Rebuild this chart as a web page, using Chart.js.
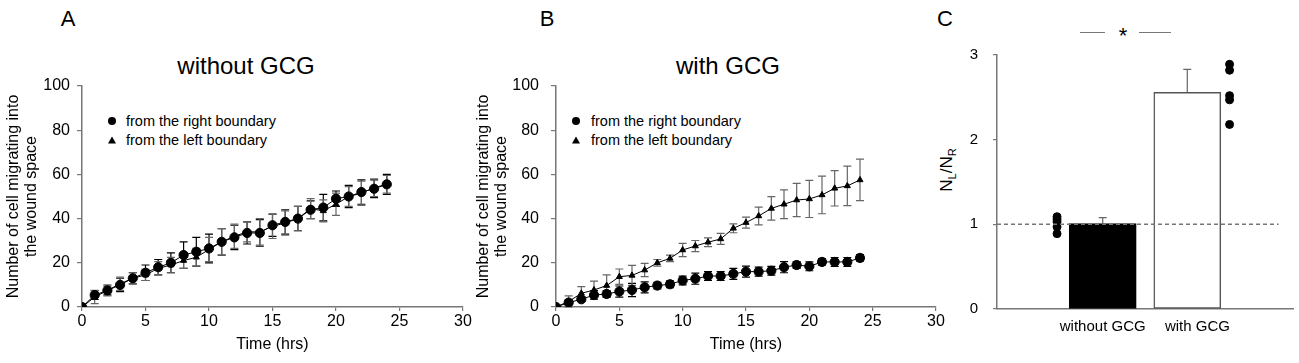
<!DOCTYPE html>
<html>
<head>
<meta charset="utf-8">
<script src="https://cdn.jsdelivr.net/npm/chart.js@4/dist/chart.umd.min.js"></script>
<style>
  body { margin: 0; width: 1299px; height: 363px; background: #fff; position: relative; overflow: hidden;
         font-family: "Liberation Sans", Arial, Helvetica, sans-serif; color: #000; }
  .box { position: absolute; top: 0; height: 363px; }
  .txt { position: absolute; white-space: nowrap; transform: translate(-50%, -50%); line-height: 1; }
  .leg { position: absolute; white-space: nowrap; font-size: 14.5px; line-height: 1; transform: translateY(-50%); }
  .dot { position: absolute; width: 8px; height: 8px; border-radius: 50%; background: #000; transform: translate(-50%, -50%); }
  .tri { position: absolute; width: 0; height: 0; border-left: 4px solid transparent; border-right: 4px solid transparent;
         border-bottom: 7px solid #000; transform: translate(-50%, -50%); }
  .sig { position: absolute; height: 0; border-top: 1.5px solid #777; }
</style>
</head>
<body>

<div class="txt" style="left:68px;top:19px;font-size:22px">A</div>
<div class="txt" style="left:547px;top:19px;font-size:22px">B</div>
<div class="txt" style="left:945px;top:19px;font-size:22px">C</div>

<div class="txt" style="left:246px;top:66px;font-size:24px">without GCG</div>
<div class="txt" style="left:728px;top:66px;font-size:24px">with GCG</div>

<div class="dot" style="left:112px;top:121px"></div>
<div class="leg" style="left:126px;top:121px">from the right boundary</div>
<div class="tri" style="left:112px;top:140px"></div>
<div class="leg" style="left:126px;top:140px">from the left boundary</div>

<div class="dot" style="left:576px;top:121px"></div>
<div class="leg" style="left:591px;top:121px">from the right boundary</div>
<div class="tri" style="left:576px;top:140px"></div>
<div class="leg" style="left:591px;top:140px">from the left boundary</div>

<div class="sig" style="left:1080px;top:32px;width:25px"></div>
<div class="sig" style="left:1139px;top:32px;width:32px"></div>
<div class="txt" style="left:1123px;top:36px;font-size:22px">*</div>
<div class="txt" style="left:948px;top:170px;font-size:17px;transform:translate(-50%,-50%) rotate(-90deg)">N<sub style="font-size:11px">L</sub>/N<sub style="font-size:11px">R</sub></div>

<div class="box" style="left:0;width:480px"><canvas id="chartA"></canvas></div>
<div class="box" style="left:470px;width:480px"><canvas id="chartB"></canvas></div>
<div class="box" style="left:940px;width:359px"><canvas id="chartC"></canvas></div>

<script>
// time points (hrs)
const hours = [0, 1, 2, 3, 4, 5, 6, 7, 8, 9, 10, 11, 12, 13, 14, 15, 16, 17, 18, 19, 20, 21, 22, 23, 24];

// A - without GCG
const rightNoGcg   = [0, 5.4, 7.5, 10, 13, 15.5, 18, 20, 23.5, 25, 26.5, 29.5, 31.5, 33.5, 33.5, 37, 38.5, 40, 44, 45, 49, 50, 52, 53.5, 55.5];
const rightNoGcgSd = [0, 2, 2, 3, 2.5, 3.5, 3.5, 4.5, 6, 6.5, 6.5, 6, 5.5, 5, 6, 5, 5.5, 5.5, 4, 6, 3.5, 5, 5.5, 4, 4.5];
const leftNoGcg    = [0, 4.5, 7.5, 10.5, 13, 14.5, 17.5, 19, 21, 22.5, 26, 29.5, 32, 34, 34, 36.5, 38, 40, 44.5, 43.5, 46.5, 50, 51.5, 54, 55.5];
const leftNoGcgSd  = [0, 3, 2.5, 3, 2.5, 2.5, 3, 3.5, 3.5, 4, 5.5, 6, 5.5, 4.5, 6, 5.5, 5.5, 5.5, 4.5, 5, 5, 4.5, 5.5, 4, 4];

// B - with GCG
const rightGcg   = [0, 2, 3.5, 5.4, 5.9, 7, 7.7, 8.9, 9.7, 10.3, 12, 12.8, 14, 14, 15, 16, 16, 16.4, 18, 19, 18.4, 20.4, 20.4, 20.4, 22.2];
const rightGcgSd = [0, 1, 1, 2, 1.5, 2.5, 3, 2.5, 1.5, 1.5, 2, 2.5, 2, 2, 2.5, 2.5, 2, 2, 2.5, 1.5, 2, 1.5, 2, 2, 1.5];
const leftGcg    = [0, 2.5, 6.2, 7.7, 9.7, 13.7, 14.3, 16.7, 20, 22, 25.8, 27.6, 29.3, 30.8, 35.6, 38.2, 41.2, 44.6, 46.5, 48.4, 48.9, 50.7, 53.7, 54.8, 57.5];
const leftGcgSd  = [0, 2.5, 3, 4, 4.8, 3.5, 4.5, 3, 1.5, 1.5, 3, 2.5, 2, 2.5, 2, 2.5, 4, 5.3, 6.5, 7.5, 8.4, 8.5, 8, 8.9, 9.4];

// C - N_L / N_R
const groups = ['without GCG', 'with GCG'];
const ratioMean = [1.01, 2.56];
const ratioSd = [0.07, 0.27];
const ratioDotsNoGcg = [1.09, 1.06, 1.03, 0.97, 0.89];
const ratioDotsGcg = [2.89, 2.82, 2.52, 2.47, 2.18];

const timeTicks = [0, 5, 10, 15, 20, 25, 30];
const countTicks = [0, 20, 40, 60, 80, 100];
const ratioTicks = [0, 1, 2, 3];

const FONT = '"Liberation Sans", Arial, Helvetica, sans-serif';

// draws vertical error bars for any dataset that has an "errors" array
const errorBars = {
    id: 'errorBars',
    beforeDatasetsDraw(chart) {
        const ctx = chart.ctx;
        chart.data.datasets.forEach(function (ds, i) {
            if (!ds.errors) return;
            const meta = chart.getDatasetMeta(i);
            const yScale = chart.scales[meta.yAxisID];
            ctx.save();
            ctx.strokeStyle = ds.errorColor || '#000';
            ctx.lineWidth = 1.2;
            meta.data.forEach(function (el, j) {
                const err = ds.errors[j];
                if (!err) return;
                const v = meta._parsed[j].y;
                const x = el.x;
                const top = yScale.getPixelForValue(v + err);
                const bot = yScale.getPixelForValue(v - err);
                const cap = ds.capWidth || 4;
                ctx.beginPath();
                ctx.moveTo(x, top); ctx.lineTo(x, bot);
                ctx.moveTo(x - cap, top); ctx.lineTo(x + cap, top);
                if (!ds.upperOnly) { ctx.moveTo(x - cap, bot); ctx.lineTo(x + cap, bot); }
                ctx.stroke();
            });
            ctx.restore();
        });
    }
};

// dashed reference line at N_L/N_R = 1
const refLine = {
    id: 'refLine',
    afterDatasetsDraw(chart) {
        const ctx = chart.ctx;
        const y = chart.scales.y.getPixelForValue(1);
        const x1 = chart.scales.x.getPixelForValue(3.08);
        ctx.save();
        ctx.strokeStyle = '#777';
        ctx.lineWidth = 1.5;
        ctx.setLineDash([4, 3]);
        ctx.beginPath();
        ctx.moveTo(chart.chartArea.left, y);
        ctx.lineTo(x1, y);
        ctx.stroke();
        ctx.restore();
    }
};

function toPoints(ys) {
    return hours.map(function (h, i) { return { x: h, y: ys[i] }; });
}

function drawTimeChart(id, right, rightSd, left, leftSd, axisW, tickPad, padRight) {
    return new Chart(document.getElementById(id), {
        type: 'line',
        data: {
            datasets: [{
                label: 'from the right boundary',
                data: toPoints(right),
                errors: rightSd,
                errorColor: '#000',
                borderColor: '#000',
                backgroundColor: '#000',
                borderWidth: 1,
                pointStyle: 'circle',
                pointRadius: 4.6,
                tension: 0
            }, {
                label: 'from the left boundary',
                data: toPoints(left),
                errors: leftSd,
                errorColor: '#666',
                borderColor: '#000',
                backgroundColor: '#000',
                borderWidth: 1,
                pointStyle: 'triangle',
                pointRadius: 3.5,
                tension: 0
            }]
        },
        options: {
            responsive: true,
            maintainAspectRatio: false,
            animation: false,
            layout: { padding: { left: 0, right: padRight, top: 86, bottom: 0 } },
            plugins: { legend: { display: false }, title: { display: false }, tooltip: { enabled: false } },
            scales: {
                x: {
                    type: 'linear',
                    min: 0, max: 30,
                    afterBuildTicks: function (s) { s.ticks = timeTicks.map(function (v) { return { value: v }; }); },
                    afterFit: function (s) { s.height = 56; },
                    ticks: { color: '#000', padding: 1, font: { family: FONT, size: 16 } },
                    grid: { drawOnChartArea: false, drawTicks: true, tickLength: 4, color: '#777', lineWidth: 1.2 },
                    border: { color: '#777', width: 1.5 },
                    title: { display: true, text: 'Time (hrs)', color: '#000', font: { family: FONT, size: 16, lineHeight: 1.125 },
                             padding: { top: 0, bottom: 9 } }
                },
                y: {
                    min: 0, max: 100,
                    afterBuildTicks: function (s) { s.ticks = countTicks.map(function (v) { return { value: v }; }); },
                    afterFit: function (s) { s.width = axisW; },
                    ticks: { color: '#000', padding: tickPad, font: { family: FONT, size: 16 } },
                    grid: { drawOnChartArea: false, drawTicks: true, tickLength: 5, color: '#777', lineWidth: 1.2 },
                    border: { color: '#777', width: 1.5 },
                    title: { display: true, text: ['Number of cell migrating into', 'the wound space'], color: '#000',
                             font: { family: FONT, size: 16, lineHeight: 1.125 }, padding: { top: 5, bottom: 0 } }
                }
            }
        },
        plugins: [errorBars]
    });
}

drawTimeChart('chartA', rightNoGcg, rightNoGcgSd, leftNoGcg, leftNoGcgSd, 82, 7, 17);
drawTimeChart('chartB', rightGcg, rightGcgSd, leftGcg, leftGcgSd, 86, 12, 14);

// panel C: bars at positions 1 and 2 on a linear axis, individual values beside them
const barPos = groups.map(function (g, i) { return i + 1; });
const dotShift = [-0.54, 0.5];
const labelShift = [0, 0.12];

new Chart(document.getElementById('chartC'), {
    type: 'bar',
    data: {
        datasets: [{
            type: 'scatter',
            data: ratioDotsNoGcg.map(function (v) { return { x: barPos[0] + dotShift[0], y: v }; })
                .concat(ratioDotsGcg.map(function (v) { return { x: barPos[1] + dotShift[1], y: v }; })),
            backgroundColor: '#000',
            borderColor: '#000',
            pointRadius: 4,
            pointStyle: 'circle'
        }, {
            type: 'bar',
            data: barPos.map(function (p, i) { return { x: p, y: ratioMean[i] }; }),
            errors: ratioSd,
            errorColor: '#666',
            upperOnly: true,
            capWidth: 4,
            backgroundColor: ['#000', '#fff'],
            borderColor: ['#000', '#555'],
            borderWidth: 1.5,
            borderSkipped: false,
            grouped: false,
            barThickness: 67
        }]
    },
    options: {
        responsive: true,
        maintainAspectRatio: false,
        animation: false,
        layout: { padding: { left: 0, right: 6, top: 55, bottom: 0 } },
        plugins: { legend: { display: false }, tooltip: { enabled: false } },
        scales: {
            x: {
                type: 'linear',
                offset: false,
                min: -0.25, max: 3.25,
                afterBuildTicks: function (s) { s.ticks = barPos.map(function (v, i) { return { value: v + labelShift[i] }; }); },
                afterFit: function (s) { s.height = 54; },
                ticks: {
                    color: '#000', padding: 9, font: { family: FONT, size: 15 },
                    callback: function (v, i) { return groups[i]; }
                },
                grid: { display: false, drawTicks: false },
                border: { color: '#777', width: 1.5 }
            },
            y: {
                min: 0, max: 3,
                afterBuildTicks: function (s) { s.ticks = ratioTicks.map(function (v) { return { value: v }; }); },
                afterFit: function (s) { s.width = 57; },
                ticks: { color: '#000', padding: 15, font: { family: FONT, size: 15 } },
                grid: { drawOnChartArea: false, drawTicks: true, tickLength: 4, color: '#777', lineWidth: 1.2 },
                border: { color: '#777', width: 1.5 }
            }
        }
    },
    plugins: [errorBars, refLine]
});
</script>
</body>
</html>
